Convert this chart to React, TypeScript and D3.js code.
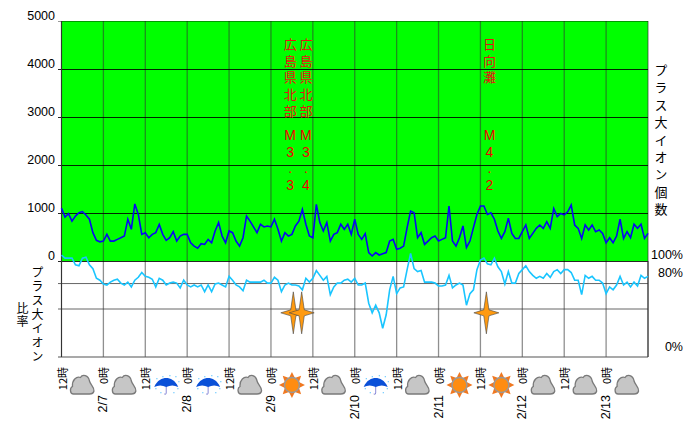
import * as d3 from "d3";

// hourly readings from 2/6 12:00 to 2/13 12:00
const ionCounts = [
  1100, 915, 985, 830, 935, 1005, 1030, 960, 870, 590, 430, 400, 415, 555, 415, 415, 450, 485, 520, 870, 660, 1190, 970, 555,
  590, 485, 555, 590, 760, 555, 430, 485, 610, 415, 520, 555, 555, 380, 310, 265, 360, 345, 450, 380, 625, 800, 520, 380,
  625, 590, 415, 310, 485, 935, 830, 710, 590, 765, 710, 730, 710, 870, 660, 415, 590, 520, 555, 730, 830, 1075, 765, 520,
  485, 1180, 800, 625, 800, 415, 555, 590, 765, 660, 765, 555, 870, 555, 450, 570, 175, 105, 175, 125, 150, 175, 415, 450,
  245, 265, 310, 695, 1040, 1005, 485, 590, 345, 415, 485, 520, 415, 450, 485, 1145, 415, 310, 485, 730, 280, 415, 695, 970,
  1145, 1145, 970, 1005, 870, 625, 470, 610, 890, 575, 470, 470, 610, 750, 470, 575, 680, 750, 680, 820, 680, 1095, 925, 990,
  960, 1025, 1165, 750, 680, 470, 750, 645, 750, 610, 645, 575, 380, 485, 380, 520, 870, 470, 610, 485, 765, 680, 765, 470,
  575,
];

const ionRatios = [
  106, 103, 103, 103, 96, 95, 103, 104, 96, 92, 82, 80, 76, 75, 78, 80, 81, 77, 75, 78, 73, 80, 83, 88,
  84, 83, 81, 73, 82, 80, 75, 77, 78, 77, 72, 80, 75, 73, 75, 73, 75, 68, 75, 68, 76, 77, 75, 73,
  84, 80, 75, 73, 69, 80, 78, 78, 78, 78, 80, 77, 77, 83, 80, 68, 75, 77, 75, 75, 74, 70, 82, 78,
  82, 90, 85, 80, 84, 65, 73, 77, 77, 80, 81, 78, 82, 75, 75, 77, 56, 46, 54, 46, 30, 44, 70, 84,
  66, 72, 73, 91, 108, 92, 89, 90, 78, 78, 78, 77, 74, 74, 75, 85, 72, 75, 77, 75, 54, 66, 70, 91,
  101, 103, 97, 96, 103, 94, 89, 76, 89, 77, 77, 87, 91, 95, 89, 85, 82, 84, 82, 87, 83, 89, 91, 87,
  91, 91, 88, 80, 80, 65, 85, 82, 84, 80, 80, 77, 66, 73, 70, 75, 84, 75, 78, 73, 78, 74, 85, 82,
  84,
];

const countTicks = [5000, 4000, 3000, 2000, 1000, 0];
const ratioGrid = [76.5, 50];
const ratioLabels = [
  { label: "100%", value: 106 },
  { label: "80%", value: 88 },
  { label: "0%", value: 10 },
];

const hourLabels = ["12時", "0時", "12時", "0時", "12時", "0時", "12時", "0時", "12時", "0時", "12時", "0時", "12時", "0時"];
const dateLabels = ["", "2/7", "", "2/8", "", "2/9", "", "2/10", "", "2/11", "", "2/12", "", "2/13"];
const weather = ["cloud", "cloud", "rain", "rain", "cloud", "sun", "cloud", "rain", "cloud", "sun", "sun", "cloud", "cloud", "cloud"];

// labelHour: the text column sits a little apart from the star so the two M3 columns don't collide
const quakes = [
  { hour: 66.4, labelHour: 65.5, name: "広島県北部", mag: "M3.3" },
  { hour: 68.8, labelHour: 70, name: "広島県北部", mag: "M3.4" },
  { hour: 121.7, labelHour: 122.6, name: "日向灘", mag: "M4.2" },
];

const jp = "'Noto Sans CJK JP', sans-serif";
const latin = "'Liberation Sans', Arial, sans-serif";

const x = d3.scaleLinear().domain([0, 168]).range([61.5, 648]);
const yCount = d3.scaleLinear().domain([0, 5000]).range([261, 21]);
const yRatio = d3.scaleLinear().domain([0, 100]).range([357, 261]);

const countLine = d3
  .line<number>()
  .x((_, i) => x(i))
  .y((d) => yCount(d));
const ratioLine = d3
  .line<number>()
  .x((_, i) => x(i))
  .y((d) => yRatio(d));

function Cloud() {
  return (
    <g>
      <path
        d="M-9 9 C-12.5 9 -13 3 -10 1.5 C-10.5 -5 -6 -9 -2 -7.5 C0 -11 6 -10 7 -4 C8 0 12 2 11.5 6 C11 8.5 9 9 7 9 Z"
        fill="#c6c6c6"
        stroke="#7a7a7a"
        strokeWidth={1.3}
      />
    </g>
  );
}

function Sun() {
  const rays = d3.range(8).map((i) => (i * 360) / 8);
  return (
    <g>
      {rays.map((r) => (
        <path key={r} d="M-3 -7 L0 -13 L3 -7 Z" fill="#f07820" transform={`rotate(${r})`} />
      ))}
      <circle r={7.5} fill="#ff8c10" stroke="#999" strokeWidth={1.4} />
    </g>
  );
}

function Rain() {
  const drops = [[-10, -7], [-4, -9], [9, -9], [12, -4], [-11, 3], [-6, 7], [7, 7], [11, 3], [3, -10]];
  return (
    <g>
      {drops.map(([dx, dy], i) => (
        <rect key={i} x={dx} y={dy} width={1.3} height={1.3} fill="#7fd0ff" />
      ))}
      <path d="M0 -2 V8 Q0 10 -2 9" fill="none" stroke="#8a8ad8" strokeWidth={1} />
      <path d="M-12 2 C-9 -5 -4 -7 0 -7 C4 -7 9 -5 12 2 C8 0 4 0 0 2 C-4 0 -8 0 -12 2 Z" fill="#0a50d8" />
    </g>
  );
}

const icons: Record<string, () => JSX.Element> = { cloud: Cloud, sun: Sun, rain: Rain };

// one text element set vertically; ty is the centre of the first character
function VerticalText({ text, tx, ty, step, size, fill = "#000" }: {
  text: string;
  tx: number;
  ty: number;
  step: number;
  size: number;
  fill?: string;
}) {
  return (
    <text
      x={tx}
      y={ty - size / 2}
      fontSize={size}
      fontFamily={jp}
      fill={fill}
      letterSpacing={step - size}
      style={{ writingMode: "vertical-rl", textOrientation: "upright" }}
    >
      {text}
    </text>
  );
}

// magnitudes keep a fixed pitch per character, so they stay separate letters
function Magnitude({ text, tx, ty }: { text: string; tx: number; ty: number }) {
  return (
    <>
      {Array.from(text).map((ch, i) => (
        <text
          key={i}
          x={tx}
          y={ty + i * 16.67}
          fontSize={14}
          fontFamily={latin}
          fill="#f00000"
          textAnchor="middle"
          dominantBaseline="central"
        >
          {ch}
        </text>
      ))}
    </>
  );
}

export default function App() {
  const hours = d3.range(0, 169, 12);
  return (
    <svg width={700} height={436} style={{ position: "absolute", left: 0, top: 0 }}>
      <rect x={0} y={0} width={700} height={436} fill="#fff" />
      <rect x={x(0)} y={yCount(5000)} width={x(168) - x(0)} height={yCount(0) - yCount(5000)} fill="#00ff00" />

      {hours.map((h) => (
        <line key={h} x1={x(h)} x2={x(h)} y1={21} y2={357} stroke="#333" strokeOpacity={0.55} strokeWidth={1.3} />
      ))}
      {countTicks.map((t) => (
        <line key={t} x1={58} x2={648} y1={yCount(t) + 0.5} y2={yCount(t) + 0.5} stroke="#000" strokeOpacity={t === 5000 ? 0.4 : 0.85} />
      ))}
      {ratioGrid.map((t) => (
        <line key={t} x1={58} x2={648} y1={yRatio(t)} y2={yRatio(t)} stroke="#333" strokeOpacity={0.75} />
      ))}
      <line x1={58} x2={648} y1={357} y2={357} stroke="#555" strokeWidth={1.2} />
      <line x1={61.5} x2={61.5} y1={21} y2={357} stroke="#333" />
      <line x1={648} x2={648} y1={261} y2={357} stroke="#333" />

      {countTicks.map((t) => (
        <text key={t} x={55} y={yCount(t) - 1} fontSize={12.5} fontFamily={latin} textAnchor="end">
          {t}
        </text>
      ))}
      {ratioLabels.map((r) => (
        <text key={r.label} x={683} y={yRatio(r.value) + 4} fontSize={12.5} fontFamily={latin} textAnchor="end">
          {r.label}
        </text>
      ))}

      <VerticalText text="プラス大イオン個数" tx={661} ty={70} step={17.4} size={13} />
      <VerticalText text="プラス大イオン" tx={37.5} ty={272} step={14.1} size={12} />
      <VerticalText text="比率" tx={22.5} ty={308} step={13.5} size={12} />

      {quakes.map((q) => (
        <g key={q.hour}>
          <VerticalText text={q.name} tx={x(q.labelHour)} ty={44} step={16.67} size={13} fill="#e81010" />
          <Magnitude text={q.mag} tx={x(q.labelHour)} ty={135} />
        </g>
      ))}

      <path d={countLine(ionCounts) ?? ""} fill="none" stroke="#0808f0" strokeWidth={1.6} />
      <path d={ratioLine(ionRatios) ?? ""} fill="none" stroke="#19c5ff" strokeWidth={1.6} />

      {quakes.map((q) => (
        <path
          key={q.hour}
          transform={`translate(${x(q.hour)},${yRatio(46)})`}
          d="M0 -21 L2.6 -3 L12.5 0 L2.6 3 L0 21 L-2.6 3 L-12.5 0 L-2.6 -3 Z"
          fill="#ff9a10"
          stroke="#444"
          strokeWidth={0.6}
        />
      ))}

      {hourLabels.map((label, i) => (
        <text
          key={i}
          transform={`translate(${x(i * 12)},367) rotate(-90)`}
          fontSize={11}
          fontFamily={jp}
          textAnchor="end"
          dominantBaseline="central"
        >
          {label}
        </text>
      ))}
      {dateLabels.map((label, i) => (
        <text
          key={i}
          transform={`translate(${x(i * 12)},395) rotate(-90)`}
          fontSize={12.5}
          fontFamily={latin}
          textAnchor="end"
          dominantBaseline="central"
        >
          {label}
        </text>
      ))}
      {weather.map((w, i) => {
        const Icon = icons[w];
        return (
          <g key={i} transform={`translate(${x(i * 12 + 6)},385)`}>
            <Icon />
          </g>
        );
      })}
    </svg>
  );
}
